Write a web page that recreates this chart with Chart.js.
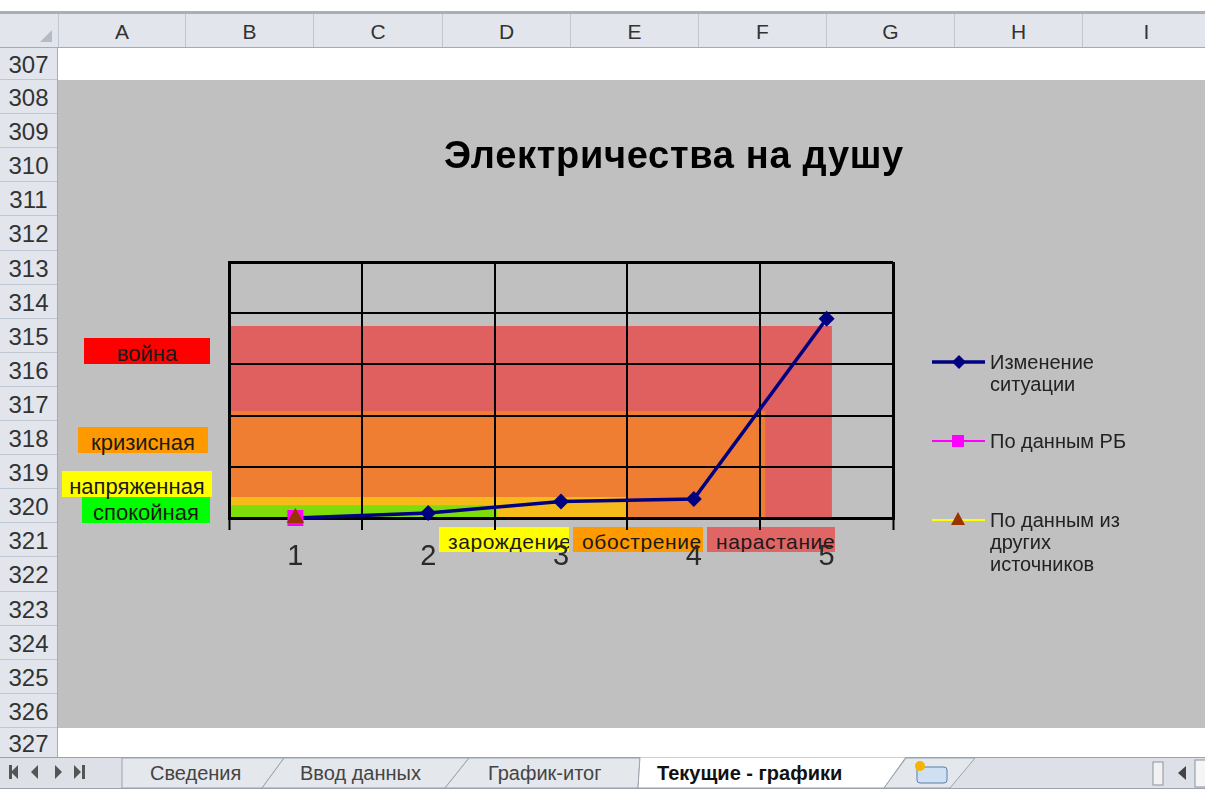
<!DOCTYPE html>
<html lang="ru">
<head>
<meta charset="UTF-8">
<title>Электричества на душу</title>
<script src="https://cdn.jsdelivr.net/npm/chart.js"></script>
<style>
    body { margin: 0; width: 1205px; height: 791px; overflow: hidden; background: #fff;
           font-family: "Liberation Sans", Arial, sans-serif; position: relative; }
    .abs { position: absolute; }
    #topline { left: 0; top: 11px; width: 1205px; height: 3px; background: #a9afb7; }
    #colhdr { left: 0; top: 14px; width: 1205px; height: 34px; background: #e2e6ec;
              border-bottom: 1px solid #a3abb5; box-sizing: border-box; }
    .col { position: absolute; top: 0; height: 33px; line-height: 36px; text-align: center;
           font-size: 21px; color: #333; border-left: 1px solid #bfc6cf; box-sizing: border-box; }
    #rowhdr { left: 0; top: 48px; width: 58px; height: 710px; background: #e2e6ec;
              border-right: 1px solid #a3abb5; box-sizing: border-box; }
    .row { position: absolute; left: 0; width: 57px; text-align: center; font-size: 24px;
           color: #333; border-bottom: 1px solid #bfc6cf; box-sizing: border-box; }
    #chartbg { left: 58px; top: 80px; width: 1147px; height: 648px; background: #c0c0c0; }
    #c { position: absolute; left: 58px; top: 80px; z-index: 2; }
    .zone { position: absolute; z-index: 1; font-size: 22px; color: #1a1a1a; text-align: center;
            height: 26px; line-height: 31px; white-space: nowrap; }
    .stage { position: absolute; z-index: 1; font-size: 21px; color: #1a1a1a; top: 527px;
             height: 25px; line-height: 29px; padding-left: 9px; box-sizing: border-box;
             white-space: nowrap; overflow: hidden; letter-spacing: 0.6px; }
    #title { left: 444px; top: 136px; font-size: 38px; font-weight: bold; line-height: 38px;
             color: #000; z-index: 3; white-space: nowrap; letter-spacing: 0.7px; }
    .leg { position: absolute; z-index: 3; font-size: 20px; color: #222; line-height: 22px; }
    #tabs { position: absolute; left: 0; top: 757px; }
    .tab { position: absolute; top: 762px; font-size: 20px; color: #444; white-space: nowrap; }
</style>
</head>
<body>

<div id="topline" class="abs"></div>
<div id="colhdr" class="abs"></div>
<div id="rowhdr" class="abs"></div>
<div id="chartbg" class="abs"></div>
<div id="title" class="abs">Электричества на душу</div>
<canvas id="c" width="1147" height="648"></canvas>

<svg id="tabs" width="1205" height="34">
    <rect x="0" y="0" width="1205" height="31" fill="#dde1e7"/>
    <line x1="0" y1="0.5" x2="1205" y2="0.5" stroke="#9aa3ad"/>
    <line x1="0" y1="31.5" x2="1205" y2="31.5" stroke="#9aa3ad"/>
    <polygon points="9,8 12,8 12,14 18,8 18,22 12,16 12,22 9,22" fill="#555"/>
    <polygon points="38,8 38,22 31,15" fill="#555"/>
    <polygon points="55,8 55,22 62,15" fill="#555"/>
    <polygon points="74,8 81,15 74,22" fill="#555"/><rect x="82" y="8" width="3" height="14" fill="#555"/>
    <polygon points="122,31 122,1 284,1 262,31" fill="#e4e7ec" stroke="#9aa3ad"/>
    <polygon points="262,31 284,1 469,1 445,31" fill="#e4e7ec" stroke="#9aa3ad"/>
    <polygon points="445,31 469,1 640,1 638,31" fill="#e4e7ec" stroke="#9aa3ad"/>
    <polygon points="638,31 640,0 906,0 884,31" fill="#ffffff" stroke="#9aa3ad"/>
    <polygon points="884,31 906,1 975,1 950,31" fill="#e4e7ec" stroke="#9aa3ad"/>
    <rect x="917" y="10" width="30" height="16" rx="3" fill="#cfe0f3" stroke="#5b7fa8"/>
    <circle cx="920" cy="9" r="5" fill="#f4b400"/>
    <rect x="1153" y="5" width="10" height="23" fill="#f2f2f2" stroke="#8a939e"/>
    <polygon points="1186,9 1186,23 1178,16" fill="#444"/>
    <rect x="1195" y="3" width="12" height="27" fill="#f5f5f5" stroke="#8a939e"/>
</svg>

<script>
    // chart values
    const categories = ['1', '2', '3', '4', '5'];
    const situation = [0, 0.1, 0.32, 0.37, 3.89];
    const rbData = [0, null, null, null, null];
    const otherData = [0, null, null, null, null];
    const seriesNames = ['Изменение ситуации', 'По данным РБ', 'По данным из других источников'];

    // background zones (level on y, end on x)
    const zoneNames = ['спокойная', 'напряженная', 'кризисная', 'война'];
    const zoneLevel = [0.25, 0.41, 2.09, 3.75];
    const zoneStart = 0.5;
    const zoneEnd = [2.52, 3.5, 4.54, 5.04];
    const stageNames = ['зарождение', 'обострение', 'нарастание'];

    const columns = ['A', 'B', 'C', 'D', 'E', 'F', 'G', 'H', 'I'];
    const firstRow = 307, lastRow = 327;
    const sheetTabs = ['Сведения', 'Ввод данных', 'График-итог', 'Текущие - графики'];

    // --- sheet chrome ---
    var colhdr = document.getElementById('colhdr');
    var colEdges = [58, 185, 313, 442, 570, 698, 826, 954, 1082, 1210];
    columns.forEach(function (c, i) {
        var d = document.createElement('div');
        d.className = 'col';
        d.style.left = colEdges[i] + 'px';
        d.style.width = (colEdges[i + 1] - colEdges[i]) + 'px';
        d.textContent = c;
        colhdr.appendChild(d);
    });
    var corner = document.createElement('div');
    corner.className = 'abs';
    corner.style.cssText = 'left:40px;top:16px;width:0;height:0;border-left:12px solid transparent;border-bottom:12px solid #b4bbc4;';
    colhdr.appendChild(corner);

    var rowhdr = document.getElementById('rowhdr');
    for (var r = firstRow; r <= lastRow; r++) {
        var rowTop, rowH;
        if (r === firstRow) { rowTop = 0; rowH = 32; }
        else if (r === lastRow) { rowTop = 680; rowH = 30; }
        else { rowTop = 32 + (r - firstRow - 1) * 648 / 19; rowH = 648 / 19; }
        var d = document.createElement('div');
        d.className = 'row';
        d.style.top = rowTop + 'px';
        d.style.height = rowH + 'px';
        d.style.lineHeight = (rowH + 2) + 'px';
        d.textContent = r;
        rowhdr.appendChild(d);
    }

    var tabX = [150, 300, 488, 657];
    sheetTabs.forEach(function (t, i) {
        var s = document.createElement('span');
        s.className = 'tab';
        s.style.left = tabX[i] + 'px';
        if (i === 3) { s.style.fontWeight = 'bold'; s.style.color = '#111'; }
        s.textContent = t;
        document.body.appendChild(s);
    });

    // --- zone labels at the left and stage labels under the axis ---
    var zoneBoxes = [
        {l: 82, t: 497, w: 128, bg: '#00ff00'},
        {l: 62, t: 471, w: 150, bg: '#ffff00'},
        {l: 78, t: 427, w: 130, bg: '#ff9900'},
        {l: 84, t: 338, w: 126, bg: '#ff0000'}
    ];
    zoneNames.forEach(function (n, i) {
        var b = zoneBoxes[i], d = document.createElement('div');
        d.className = 'zone';
        d.style.left = b.l + 'px'; d.style.top = b.t + 'px'; d.style.width = b.w + 'px';
        d.style.background = b.bg;
        d.textContent = n;
        document.body.appendChild(d);
    });
    var stageBoxes = [
        {l: 439, w: 130, bg: '#ffff00'},
        {l: 573, w: 130, bg: '#ff9900'},
        {l: 707, w: 128, bg: '#e06666'}
    ];
    stageNames.forEach(function (n, i) {
        var b = stageBoxes[i], d = document.createElement('div');
        d.className = 'stage';
        d.style.left = b.l + 'px'; d.style.width = b.w + 'px'; d.style.background = b.bg;
        d.textContent = n;
        document.body.appendChild(d);
    });

    // --- legend ---
    var legendMarks = [
        '<line x1="0" y1="10" x2="53" y2="10" stroke="#000080" stroke-width="3.5"/><polygon points="27,3 34,10 27,17 20,10" fill="#000080"/>',
        '<line x1="0" y1="10" x2="53" y2="10" stroke="#ff00ff" stroke-width="2"/><rect x="20" y="4" width="12" height="12" fill="#ff00ff"/>',
        '<line x1="0" y1="10" x2="53" y2="10" stroke="#ffff00" stroke-width="2"/><polygon points="26,2 33,15 19,15" fill="#993300"/>'
    ];
    var legendY = [362, 441, 520];
    var legendLines = [['Изменение', 'ситуации'], ['По данным РБ'], ['По данным из', 'других', 'источников']];
    seriesNames.forEach(function (n, i) {
        var svg = document.createElementNS('http://www.w3.org/2000/svg', 'svg');
        svg.setAttribute('width', '54'); svg.setAttribute('height', '20');
        svg.style.cssText = 'position:absolute;z-index:3;left:932px;top:' + (legendY[i] - 10) + 'px';
        svg.innerHTML = legendMarks[i];
        document.body.appendChild(svg);
        var t = document.createElement('div');
        t.className = 'leg';
        t.style.left = '990px';
        t.style.top = (legendY[i] - 11) + 'px';
        t.innerHTML = legendLines[i].join('<br>');
        document.body.appendChild(t);
    });

    // --- chart ---
    var zoneColors = ['#7ddd0b', '#f6bb1b', '#ef7e32', '#e05f5f'];
    var datasets = [
        {label: seriesNames[2], data: otherData, borderColor: '#ffff00', backgroundColor: '#993300',
         pointStyle: 'triangle', pointRadius: 10, borderWidth: 2, pointBorderWidth: 0, order: 0, clip: false},
        {label: seriesNames[1], data: rbData, borderColor: '#ff00ff', backgroundColor: '#ff00ff',
         pointStyle: 'rect', pointRadius: 11.3, borderWidth: 2, pointBorderWidth: 0, order: 1, clip: false},
        {label: seriesNames[0], data: situation, borderColor: '#000080', backgroundColor: '#000080',
         pointStyle: 'rectRot', pointRadius: 8, borderWidth: 3.5, pointBorderWidth: 0, order: 2, clip: false}
    ];
    zoneNames.forEach(function (n, i) {
        datasets.push({
            label: n, xAxisID: 'xb',
            data: [{x: zoneStart, y: zoneLevel[i]}, {x: zoneEnd[i], y: zoneLevel[i]}],
            backgroundColor: zoneColors[i], borderWidth: 0, pointRadius: 0,
            fill: 'origin', order: 3 + i
        });
    });

    new Chart(document.getElementById('c'), {
        type: 'line',
        data: {labels: categories, datasets: datasets},
        options: {
            responsive: false, animation: false, events: [],
            layout: {padding: {left: 171, top: 182, right: 312, bottom: 150}},
            plugins: {
                legend: {display: false},
                tooltip: {enabled: false},
                filler: {drawTime: 'beforeDraw'}
            },
            scales: {
                x: {
                    offset: true,
                    grid: {
                        offset: true, color: '#000', tickLength: 12, tickWidth: 2, tickColor: '#000',
                        lineWidth: function (c) { return (c.index === undefined || c.index === 0) ? 3 : 2; }
                    },
                    border: {display: true, width: 3, color: '#000'},
                    ticks: {color: '#2a2a2a', padding: 10, font: {family: '"Liberation Sans", Arial', size: 29}},
                    afterFit: function (s) { s.height = 60; }
                },
                xb: {type: 'linear', display: false, min: 0.5, max: 5.5},
                y: {
                    min: 0, max: 5,
                    ticks: {display: false, stepSize: 1},
                    grid: {
                        drawTicks: false, color: '#000',
                        lineWidth: function (c) { return (c.tick && (c.tick.value === 5 || c.tick.value === 0)) ? 3 : 2; }
                    },
                    border: {display: true, width: 3, color: '#000'},
                    afterFit: function (s) { s.width = 0; }
                }
            }
        }
    });
</script>

</body>
</html>
